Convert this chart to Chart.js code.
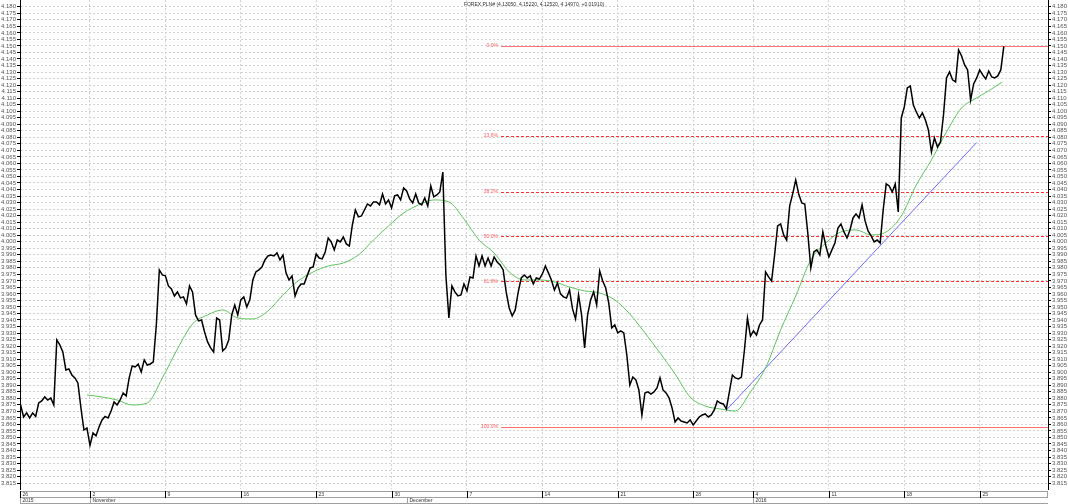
<!DOCTYPE html>
<html>
<head>
<meta charset="utf-8">
<script src="https://cdn.jsdelivr.net/npm/chart.js@4.4.1/dist/chart.umd.min.js"></script>
<style>
  html, body { margin: 0; padding: 0; background: #fff; }
  #chart { display: block; }
</style>
</head>
<body>
<canvas id="chart" width="1068" height="504"></canvas>
<script>
const title = 'FOREX.PLN# (4.13050, 4.15220, 4.12520, 4.14970, +0.01910)';

// x is counted in trading days, Mon 26 Oct 2015 = day 0
// close every 0.2 trading day
const priceStartDay = 0.4;
const priceStepDay = 0.2;
const priceValues = [
    3.8749, 3.8657, 3.8688, 3.8649, 3.8688, 3.8661, 3.8764, 3.8780, 3.8810, 3.8787,
    3.8803, 3.8749, 3.9247, 3.9209, 3.9155, 3.9017, 3.9025, 3.8979, 3.8956, 3.8918,
    3.8726, 3.8557, 3.8573, 3.8439, 3.8534, 3.8512, 3.8580, 3.8634, 3.8661, 3.8649,
    3.8703, 3.8772, 3.8749, 3.8787, 3.8841, 3.8818, 3.8956, 3.9048, 3.9040, 3.9063,
    3.9002, 3.9094, 3.9055, 3.9063, 3.9079, 3.9362, 3.9784, 3.9745, 3.9738, 3.9661,
    3.9638, 3.9584, 3.9615, 3.9569, 3.9577, 3.9523, 3.9661, 3.9615, 3.9439, 3.9393,
    3.9400, 3.9308, 3.9232, 3.9186, 3.9155, 3.9415, 3.9400, 3.9163, 3.9186, 3.9247,
    3.9439, 3.9515, 3.9439, 3.9554, 3.9577, 3.9500, 3.9554, 3.9707, 3.9768, 3.9784,
    3.9806, 3.9860, 3.9891, 3.9898, 3.9891, 3.9914, 3.9860, 3.9898, 3.9761, 3.9707,
    3.9738, 3.9584, 3.9646, 3.9676, 3.9676, 3.9738, 3.9799, 3.9806, 3.9906, 3.9875,
    3.9868, 3.9921, 4.0029, 3.9998, 3.9937, 4.0013, 3.9998, 4.0036, 3.9983, 3.9967,
    4.0128, 4.0243, 4.0190, 4.0197, 4.0243, 4.0289, 4.0274, 4.0305, 4.0305, 4.0282,
    4.0366, 4.0289, 4.0320, 4.0259, 4.0351, 4.0358, 4.0320, 4.0412, 4.0389, 4.0328,
    4.0297, 4.0366, 4.0297, 4.0282, 4.0335, 4.0274, 4.0427, 4.0343, 4.0358, 4.0381,
    4.0534, 3.9745, 3.9415, 3.9661, 3.9615, 3.9584, 3.9592, 3.9676, 3.9623, 3.9730,
    3.9722, 3.9891, 3.9814, 3.9891, 3.9814, 3.9875, 3.9814, 3.9883, 3.9845, 3.9822,
    3.9784, 3.9615, 3.9492, 3.9431, 3.9477, 3.9615, 3.9722, 3.9745, 3.9722, 3.9738,
    3.9676, 3.9722, 3.9714, 3.9753, 3.9814, 3.9761, 3.9707, 3.9630, 3.9684, 3.9600,
    3.9577, 3.9569, 3.9630, 3.9485, 3.9408, 3.9592, 3.9439, 3.9186, 3.9439, 3.9554,
    3.9615, 3.9515, 3.9776, 3.9699, 3.9646, 3.9531, 3.9339, 3.9362, 3.9301, 3.9316,
    3.9301, 3.9132, 3.8902, 3.8963, 3.8941, 3.8864, 3.8672, 3.8841, 3.8849, 3.8833,
    3.8849, 3.8879, 3.8956, 3.8864, 3.8841, 3.8803, 3.8726, 3.8619, 3.8649, 3.8626,
    3.8619, 3.8611, 3.8634, 3.8596, 3.8626, 3.8657, 3.8672, 3.8680, 3.8657, 3.8672,
    3.8711, 3.8780, 3.8764, 3.8757, 3.8718, 3.8849, 3.8979, 3.8956, 3.8948, 3.8963,
    3.9170, 3.9415, 3.9277, 3.9316, 3.9285, 3.9362, 3.9400, 3.9768, 3.9730, 3.9699,
    3.9898, 4.0121, 4.0136, 4.0052, 4.0013, 4.0274, 4.0366, 4.0473, 4.0366, 4.0297,
    4.0289, 4.0067, 3.9799, 3.9921, 3.9937, 3.9898, 4.0075, 3.9967, 3.9883, 3.9937,
    3.9990, 4.0105, 4.0136, 4.0075, 4.0029, 4.0090, 4.0182, 4.0213, 4.0182, 4.0282,
    4.0159, 4.0082, 4.0044, 3.9998, 4.0013, 3.9990, 4.0243, 4.0443, 4.0427, 4.0381,
    4.0443, 4.0228, 4.0948, 4.1033, 4.1178, 4.1193, 4.1048, 4.0994, 4.0948, 4.0987,
    4.0933, 4.0856, 4.0688, 4.0795, 4.0726, 4.0764, 4.0971, 4.1255, 4.1301, 4.1240,
    4.1224, 4.1469, 4.1423, 4.1354, 4.1316, 4.1086, 4.1209, 4.1255, 4.1316, 4.1278,
    4.1247, 4.1308, 4.1262, 4.1255, 4.1270, 4.1316, 4.1497
];

// moving average (green)
const maDays = [
    4.8, 5.8, 6.8, 7.8, 8.8, 9.8, 10.8, 11.8, 12.8, 13.8,
    14.8, 15.8, 16.8, 17.8, 18.8, 19.8, 20.8, 21.8, 22.8, 23.8,
    24.8, 25.8, 26.8, 27.8, 28.8, 29.8, 30.8, 31.8, 32.8, 33.8,
    34.8, 35.8, 36.8, 37.8, 38.8, 39.8, 40.8, 41.8, 42.8, 43.8,
    44.8, 45.8, 46.8, 47.8, 48.8, 49.8, 50.8, 51.8, 52.8, 53.8,
    54.8, 55.8, 56.8, 57.8, 58.8, 59.8, 60.8, 61.8, 62.8, 63.8,
    64.8, 65.5
];
const maValues = [
    3.8826, 3.8810, 3.8787, 3.8749, 3.8764, 3.8956, 3.9178, 3.9370, 3.9439, 3.9477,
    3.9415, 3.9408, 3.9469, 3.9592, 3.9699, 3.9768, 3.9814, 3.9837, 3.9898, 4.0013,
    4.0121, 4.0220, 4.0282, 4.0320, 4.0305, 4.0174, 4.0013, 3.9914, 3.9768, 3.9707,
    3.9707, 3.9692, 3.9653, 3.9623, 3.9607, 3.9554, 3.9446, 3.9301, 3.9148, 3.8987,
    3.8810, 3.8741, 3.8718, 3.8703, 3.8849, 3.9033, 3.9324, 3.9584, 3.9860, 3.9990,
    4.0075, 4.0090, 4.0052, 4.0075, 4.0197, 4.0435, 4.0626, 4.0841, 4.1025, 4.1102,
    4.1171, 4.1224
];

// trend line (blue)
const trendDays = [47.2, 63.8];
const trendValues = [3.871, 4.076];

// Fibonacci retracement
const fibHigh = 4.150;
const fibLow = 3.858;
const fibLevels = [0, 23.6, 38.2, 50, 61.8, 100];
const fibStartDay = 32.25;

// time axis
const weekDays = [0.36, 5, 10, 15, 20, 25, 30, 35, 40, 45, 49, 54, 59, 64];
const weekLabels = ['26', '2', '9', '16', '23', '30', '7', '14', '21', '28', '4', '11', '18', '25'];
const monthDays = [0.36, 5, 26, 49];
const monthLabels = ['2015', 'November', 'December', '2016'];

const yTicks = [];
for (let v = 3815; v <= 4180; v += 5) yTicks.push(v / 1000);

const xMin = 0.36, xMax = 68.53;
const yMin = 3.8105, yMax = 4.1852;

const FONT = '"Liberation Sans", Arial, sans-serif';

function fibPrice(level) {
    return fibHigh - (fibHigh - fibLow) * level / 100;
}

const pricePoints = priceValues.map((v, i) => ({ x: priceStartDay + i * priceStepDay, y: v }));
const maPoints = maValues.map((v, i) => ({ x: maDays[i], y: v }));
const trendPoints = trendValues.map((v, i) => ({ x: trendDays[i], y: v }));

// fibo lines go under the series, snapped to whole pixels
const fibLines = {
    id: 'fibLines',
    beforeDatasetsDraw(chart) {
        const { ctx, chartArea: a, scales: { x, y } } = chart;
        const x0 = Math.round(x.getPixelForValue(fibStartDay));
        ctx.save();
        ctx.lineWidth = 1;
        fibLevels.forEach(l => {
            const solid = l === 0 || l === 100;
            const py = Math.round(y.getPixelForValue(fibPrice(l))) + 0.5;
            ctx.strokeStyle = solid ? '#ff7070' : '#ff3030';
            ctx.setLineDash(solid ? [] : [3, 2]);
            ctx.beginPath();
            ctx.moveTo(x0, py);
            ctx.lineTo(a.right, py);
            ctx.stroke();
        });
        ctx.restore();
    }
};

// title, fibo labels and the date strip under the plot
const overlay = {
    id: 'overlay',
    afterDraw(chart) {
        const { ctx, chartArea: a, scales: { x, y } } = chart;
        ctx.save();
        ctx.font = '5px ' + FONT;
        ctx.textBaseline = 'middle';

        ctx.fillStyle = '#333';
        ctx.textAlign = 'center';
        ctx.fillText(title, (a.left + a.right) / 2, 5);

        ctx.fillStyle = '#ff5a5a';
        ctx.textAlign = 'right';
        const lx = x.getPixelForValue(fibStartDay) - 3;
        fibLevels.forEach(l => {
            ctx.fillText(l.toFixed(1) + '%', lx, y.getPixelForValue(fibPrice(l)));
        });

        const top = a.bottom;
        ctx.lineWidth = 1;
        ctx.strokeStyle = '#a0a0a0';
        ctx.strokeRect(a.left + 0.5, top + 2.5, a.right - a.left - 1, 6);
        ctx.beginPath();
        ctx.moveTo(a.left, top + 14.5);
        ctx.lineTo(a.right, top + 14.5);
        ctx.stroke();

        ctx.textAlign = 'left';
        ctx.fillStyle = '#333';
        ctx.strokeStyle = '#000';
        weekDays.forEach((d, i) => {
            const px = Math.round(x.getPixelForValue(d)) + 0.5;
            ctx.beginPath();
            ctx.moveTo(px, top + 2);
            ctx.lineTo(px, top + 9);
            ctx.stroke();
            ctx.fillText(weekLabels[i], px + 2, top + 5.5);
        });

        ctx.strokeStyle = '#a0a0a0';
        monthDays.forEach((d, i) => {
            const px = Math.round(x.getPixelForValue(d)) + 0.5;
            ctx.beginPath();
            ctx.moveTo(px, top + 9);
            ctx.lineTo(px, top + 15);
            ctx.stroke();
            ctx.fillText(monthLabels[i], px + 2, top + 12);
        });
        ctx.restore();
    }
};

function yAxis(position, grid) {
    return {
        type: 'linear',
        position: position,
        min: yMin,
        max: yMax,
        afterBuildTicks: s => { s.ticks = yTicks.map(v => ({ value: v })); },
        afterFit: s => { s.width = 20; s.paddingTop = 0; s.paddingBottom = 0; },
        ticks: {
            autoSkip: false,
            padding: 1,
            color: '#555',
            font: { size: 6, family: FONT },
            callback: v => v.toFixed(3)
        },
        grid: Object.assign({ color: '#d2d2d2', tickLength: 3, tickColor: '#000' }, grid),
        border: { display: true, color: '#000', width: 1, dash: [2, 2] }
    };
}

const ctx = document.getElementById('chart').getContext('2d');
new Chart(ctx, {
    type: 'line',
    data: {
        datasets: [
            {
                label: 'FOREX.PLN#',
                data: pricePoints,
                borderColor: '#000',
                borderWidth: 1.5,
                pointRadius: 0,
                tension: 0
            },
            {
                label: 'MA',
                data: maPoints,
                borderColor: '#5cc45c',
                borderWidth: 1,
                pointRadius: 0,
                cubicInterpolationMode: 'monotone'
            },
            {
                label: 'Trend',
                data: trendPoints,
                borderColor: '#6b6bff',
                borderWidth: 1,
                pointRadius: 0
            }
        ]
    },
    options: {
        responsive: false,
        animation: false,
        layout: { padding: 0 },
        plugins: {
            legend: { display: false },
            tooltip: { enabled: false }
        },
        scales: {
            x: {
                type: 'linear',
                min: xMin,
                max: xMax,
                afterBuildTicks: s => { s.ticks = weekDays.map(v => ({ value: v })); },
                afterFit: s => { s.height = 15; },
                ticks: { display: false },
                grid: { color: '#d2d2d2', drawTicks: false },
                border: { display: false, dash: [2, 2] }
            },
            y: yAxis('left', {}),
            y2: yAxis('right', { drawOnChartArea: false })
        }
    },
    plugins: [fibLines, overlay]
});
</script>
</body>
</html>
